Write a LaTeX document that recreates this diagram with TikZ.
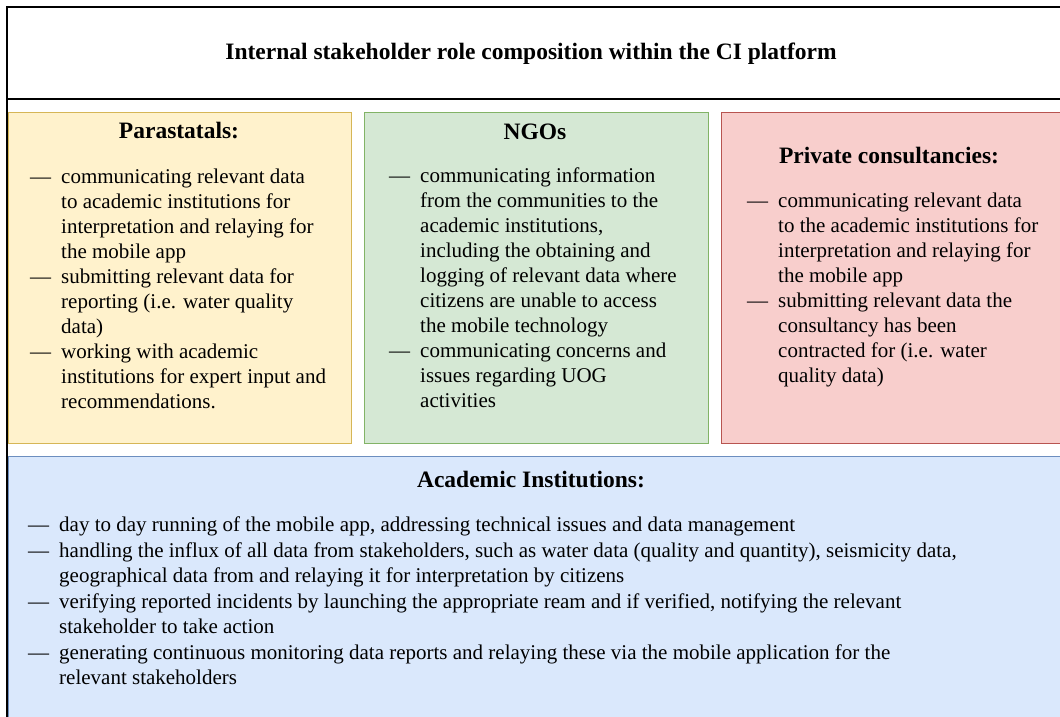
\documentclass[tikz,border=0pt]{standalone}
\usepackage{fontspec}
\setmainfont{Liberation Serif}

\definecolor{parafill}{HTML}{FFF2CC}\definecolor{paraline}{HTML}{D6B656}
\definecolor{ngofill}{HTML}{D5E8D4}\definecolor{ngoline}{HTML}{82B366}
\definecolor{privfill}{HTML}{F8CECC}\definecolor{privline}{HTML}{B85450}
\definecolor{acadfill}{HTML}{DAE8FC}\definecolor{acadline}{HTML}{6C8EBF}

% one list entry: dash, gap, text lines
\newcommand{\roleitem}{—\hspace{10pt}}

\begin{document}
\begin{tikzpicture}[x=1pt,y=-1pt,
  panel/.style={draw, line width=0.9pt, anchor=north west, inner sep=0pt, outer sep=0pt},
  frame/.style={draw=black, line width=1.6pt, anchor=north west, inner sep=0pt, outer sep=0pt},
  head/.style={font=\fontsize{23.5}{28}\selectfont\bfseries, anchor=base, inner sep=0pt},
  body/.style={font=\fontsize{21}{25}\selectfont, anchor=base west, inner sep=0pt, align=left}]

\useasboundingbox (0,0) rectangle (1060,716);
\clip (0,0) rectangle (1060,716);
\fill[white] (0,0) rectangle (1060,716);

% outer frame and title band
\node[frame, minimum width=1070pt, minimum height=730pt] (outer) at (7,7) {};
\node[frame, minimum width=1070pt, minimum height=92pt] (titlebox) at (7,7) {};
\node[head] (title) at (531,59) {Internal stakeholder role composition within the CI platform};

% the three stakeholder panels
\node[panel, fill=parafill, draw=paraline, minimum width=343pt, minimum height=331pt] (para) at (8,112) {};
\node[panel, fill=ngofill, draw=ngoline, minimum width=344pt, minimum height=331pt] (ngo) at (364,112) {};
\node[panel, fill=privfill, draw=privline, minimum width=360pt, minimum height=331pt] (priv) at (721,112) {};
% academic panel along the bottom
\node[panel, fill=acadfill, draw=acadline, minimum width=1070pt, minimum height=280pt] (acad) at (8,456) {};

% headings
\node[head] (parahead) at (179,138) {Parastatals:};
\node[head] (ngohead) at (535,139) {NGOs};
\node[head] (privhead) at (889,163) {Private consultancies:};
\node[head] (acadhead) at (531,487) {Academic Institutions:};

% bullet texts
\node[body] (paratext) at (30,183) {\begin{tabular}[t]{@{}l@{\hspace{10pt}}l@{}}
— & communicating relevant data\\
  & to academic institutions for\\
  & interpretation and relaying for\\
  & the mobile app\\
— & submitting relevant data for\\
  & reporting (i.e. water quality\\
  & data)\\
— & working with academic\\
  & institutions for expert input and\\
  & recommendations.
\end{tabular}};

\node[body] (ngotext) at (389,182) {\begin{tabular}[t]{@{}l@{\hspace{10pt}}l@{}}
— & communicating information\\
  & from the communities to the\\
  & academic institutions,\\
  & including the obtaining and\\
  & logging of relevant data where\\
  & citizens are unable to access\\
  & the mobile technology\\
— & communicating concerns and\\
  & issues regarding UOG\\
  & activities
\end{tabular}};

\node[body] (privtext) at (747,207) {\begin{tabular}[t]{@{}l@{\hspace{10pt}}l@{}}
— & communicating relevant data\\
  & to the academic institutions for\\
  & interpretation and relaying for\\
  & the mobile app\\
— & submitting relevant data the\\
  & consultancy has been\\
  & contracted for (i.e. water\\
  & quality data)
\end{tabular}};

\node[body] (acadtext) at (28,531) {\begin{tabular}[t]{@{}l@{\hspace{10pt}}l@{}}
— & day to day running of the mobile app, addressing technical issues and data management\\[1pt]
— & handling the influx of all data from stakeholders, such as water data (quality and quantity), seismicity data,\\
  & geographical data from and relaying it for interpretation by citizens\\[1pt]
— & verifying reported incidents by launching the appropriate ream and if verified, notifying the relevant\\
  & stakeholder to take action\\[1pt]
— & generating continuous monitoring data reports and relaying these via the mobile application for the\\
  & relevant stakeholders
\end{tabular}};

\end{tikzpicture}
\end{document}
